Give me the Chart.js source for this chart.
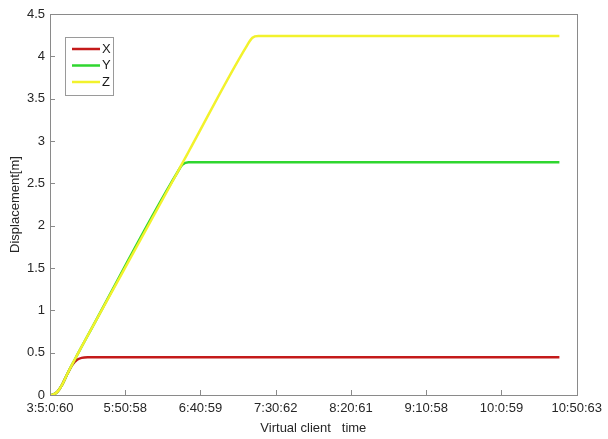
<!DOCTYPE html>
<html>
<head>
<meta charset="utf-8">
<script src="https://cdn.jsdelivr.net/npm/chart.js@4/dist/chart.umd.min.js"></script>
<style>
  html, body { margin: 0; padding: 0; background: #fff; }
  #wrap { width: 608px; height: 439px; }
</style>
</head>
<body>
<div id="wrap"><canvas id="dispChart" width="608" height="439"></canvas></div>
<script>
// tick labels on the time axis (one per unit of x)
const timeLabels = ['3:5:0:60', '5:50:58', '6:40:59', '7:30:62', '8:20:61', '9:10:58', '10:0:59', '10:50:63'];
// sample positions, in tick units
const sampleX = [0, 0.04, 0.1, 0.16, 0.22, 0.3, 0.36, 0.42, 0.5, 1.7, 1.76, 1.84, 2.62, 2.69, 2.77, 6.77];
const dispX = [0, 0.005, 0.04, 0.12, 0.23, 0.36, 0.415, 0.438, 0.445, 0.445, 0.445, 0.445, 0.445, 0.445, 0.445, 0.445];
const dispY = [0, 0.005, 0.04, 0.12, 0.23, 0.37, 0.47, 0.57, 0.70, 2.64, 2.72, 2.75, 2.75, 2.75, 2.75, 2.75];
const dispZ = [0, 0.005, 0.04, 0.12, 0.23, 0.37, 0.47, 0.57, 0.70, 2.64, 2.74, 2.87, 4.13, 4.22, 4.24, 4.24];
const seriesNames = ['X', 'Y', 'Z'];
const seriesColors = ['#c41a1a', '#2fd62f', '#f2f22c'];

const FONT = 'Liberation Sans, Arial, sans-serif';
const FONT_SIZE = 13;
const AXIS_GREY = '#8a8a8a';

function toPoints(vals) {
    return sampleX.map((x, i) => ({ x: x, y: vals[i] }));
}

// frame, inward tick marks and the boxed legend (matlab look)
const matlabAxes = {
    id: 'matlabAxes',
    afterDraw(chart) {
        const ctx = chart.ctx;
        const a = chart.chartArea;
        const xs = chart.scales.x, ys = chart.scales.y;
        ctx.save();
        ctx.strokeStyle = AXIS_GREY;
        ctx.lineWidth = 1;
        ctx.beginPath();
        xs.ticks.forEach(t => {
            const px = Math.round(xs.getPixelForValue(t.value)) + 0.5;
            ctx.moveTo(px, a.bottom); ctx.lineTo(px, a.bottom - 5);
        });
        ys.ticks.forEach(t => {
            const py = Math.round(ys.getPixelForValue(t.value)) + 0.5;
            ctx.moveTo(a.left, py); ctx.lineTo(a.left + 5, py);
        });
        ctx.stroke();
        ctx.strokeRect(Math.round(a.left) + 0.5, Math.round(a.top) + 0.5,
                       Math.round(a.right - a.left), Math.round(a.bottom - a.top));

        // legend
        const lx = Math.round(a.left) + 15, ly = Math.round(a.top) + 23;
        const lw = 48, lh = 58;
        ctx.fillStyle = '#fff';
        ctx.fillRect(lx, ly, lw, lh);
        ctx.strokeStyle = '#9a9a9a';
        ctx.strokeRect(lx + 0.5, ly + 0.5, lw, lh);
        ctx.font = FONT_SIZE + 'px ' + FONT;
        ctx.textBaseline = 'middle';
        seriesNames.forEach((name, i) => {
            const y = ly + 12 + i * 16.5;
            ctx.strokeStyle = seriesColors[i];
            ctx.lineWidth = 2.5;
            ctx.beginPath();
            ctx.moveTo(lx + 7, y); ctx.lineTo(lx + 35, y);
            ctx.stroke();
            ctx.fillStyle = '#1a1a1a';
            ctx.fillText(name, lx + 37, y);
        });
        ctx.restore();
    }
};

const ctx = document.getElementById('dispChart').getContext('2d');
const myChart = new Chart(ctx, {
    type: 'line',
    data: {
        datasets: [
            { label: 'X', data: toPoints(dispX), borderColor: seriesColors[0], order: 2 },
            { label: 'Y', data: toPoints(dispY), borderColor: seriesColors[1], order: 1 },
            { label: 'Z', data: toPoints(dispZ), borderColor: seriesColors[2], order: 0 }
        ]
    },
    options: {
        responsive: false,
        animation: false,
        layout: { padding: { top: 14, right: 29, left: 0, bottom: 0 } },
        elements: {
            point: { radius: 0 },
            line: { borderWidth: 2.5, cubicInterpolationMode: 'monotone', fill: false }
        },
        plugins: { legend: { display: false }, tooltip: { enabled: false } },
        scales: {
            x: {
                type: 'linear', min: 0, max: 7,
                grid: { display: false, drawTicks: false, tickLength: 0 },
                border: { display: false },
                afterFit: s => { s.height = 44; },
                ticks: {
                    stepSize: 1, padding: 6, maxRotation: 0, autoSkip: false,
                    color: '#262626', font: { family: FONT, size: FONT_SIZE },
                    callback: v => timeLabels[v]
                },
                title: {
                    display: true, text: 'Virtual client   time', color: '#262626',
                    font: { family: FONT, size: FONT_SIZE }, padding: { top: 0, bottom: 3 }
                }
            },
            y: {
                min: 0, max: 4.5,
                grid: { display: false, drawTicks: false, tickLength: 0 },
                border: { display: false },
                afterFit: s => { s.width = 50; },
                ticks: {
                    stepSize: 0.5, padding: 5,
                    color: '#262626', font: { family: FONT, size: FONT_SIZE },
                    callback: v => String(Math.round(v * 10) / 10)
                },
                title: {
                    display: true, text: 'Displacement[m]', color: '#262626',
                    font: { family: FONT, size: FONT_SIZE }, padding: { top: 8, bottom: 0 }
                }
            }
        }
    },
    plugins: [matlabAxes]
});
</script>
</body>
</html>
